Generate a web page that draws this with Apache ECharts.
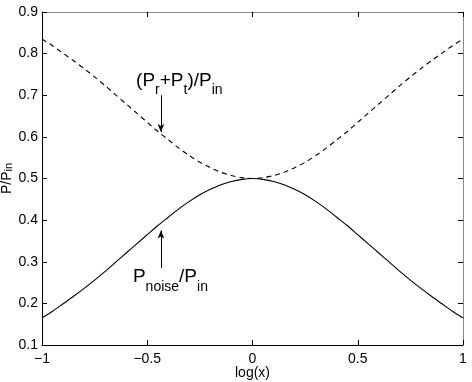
<!DOCTYPE html>
<html>
<head>
<meta charset="utf-8">
<script src="https://cdn.jsdelivr.net/npm/echarts@6/dist/echarts.min.js"></script>
<style>
  html, body { margin: 0; padding: 0; background: #fff; }
  #chart { width: 472px; height: 382px; }
</style>
</head>
<body>
<div id="chart"></div>
<script>
// log(x) sample points
var logX = [-1, -0.95, -0.9, -0.85, -0.8, -0.75, -0.7, -0.65, -0.6, -0.55, -0.5,
            -0.45, -0.4, -0.35, -0.3, -0.25, -0.2, -0.15, -0.1, -0.05, 0,
            0.05, 0.1, 0.15, 0.2, 0.25, 0.3, 0.35, 0.4, 0.45, 0.5,
            0.55, 0.6, 0.65, 0.7, 0.75, 0.8, 0.85, 0.9, 0.95, 1];
// P_noise / P_in  (solid)
var pNoise = [0.165, 0.181, 0.199, 0.217, 0.236, 0.256, 0.277, 0.299, 0.321, 0.343, 0.365,
              0.387, 0.407, 0.427, 0.445, 0.461, 0.474, 0.485, 0.493, 0.498, 0.500,
              0.498, 0.493, 0.485, 0.474, 0.461, 0.445, 0.427, 0.407, 0.387, 0.365,
              0.343, 0.321, 0.299, 0.277, 0.256, 0.236, 0.217, 0.199, 0.181, 0.165];
// (P_r + P_t) / P_in  (dashed)
var pRT = [0.835, 0.819, 0.801, 0.783, 0.764, 0.744, 0.723, 0.701, 0.679, 0.657, 0.635,
           0.613, 0.593, 0.573, 0.555, 0.539, 0.526, 0.515, 0.507, 0.502, 0.500,
           0.502, 0.507, 0.515, 0.526, 0.539, 0.555, 0.573, 0.593, 0.613, 0.635,
           0.657, 0.679, 0.701, 0.723, 0.744, 0.764, 0.783, 0.801, 0.819, 0.835];
var xTicks = [-1, -0.5, 0, 0.5, 1];
var yTicks = [0.1, 0.2, 0.3, 0.4, 0.5, 0.6, 0.7, 0.8, 0.9];

// annotation text (left edge / middle of main text, data coords) and arrows [x, yFrom, yTo]
var noiseLabelAt = [-0.568, 0.2634];
var rtLabelAt = [-0.553, 0.7354];
var noiseParts = [['P', 0], ['noise', 1], ['/P', 0], ['in', 1]];
var rtParts = [['(P', 0], ['r', 1], ['+P', 0], ['t', 1], [')/P', 0], ['in', 1]];
var noiseArrow = [-0.435, 0.285, 0.375];
var rtArrow = [-0.435, 0.700, 0.612];

var font = "'Liberation Sans', Arial, Helvetica, sans-serif";
var mainSize = 19, subSize = 14, subDrop = 10;

function pairs(ys) {
  return logX.map(function (x, i) { return [x, ys[i]]; });
}
function minus(v) { return String(v).replace('-', '\u2212'); }
function arrowLine(a) {
  return {
    silent: true, symbol: ['none', 'arrow'], symbolSize: [5, 8],
    label: { show: false },
    lineStyle: { color: '#000', width: 1, type: 'solid' },
    emphasis: { disabled: true },
    data: [[{ coord: [a[0], a[1]] }, { coord: [a[0], a[2]] }]]
  };
}

var chart = echarts.init(document.getElementById('chart'), null, { renderer: 'canvas' });
var baseAxisX = {
  type: 'value', min: xTicks[0], max: xTicks[xTicks.length - 1], interval: 0.5,
  splitLine: { show: false },
  nameMoveOverlap: false,
  axisTick: { inside: true, length: 5, lineStyle: { color: '#000' } }
};
var baseAxisY = {
  type: 'value', min: yTicks[0], max: yTicks[yTicks.length - 1], interval: 0.1,
  splitLine: { show: false },
  nameMoveOverlap: false,
  axisTick: { inside: true, length: 5, lineStyle: { color: '#000' } }
};

chart.setOption({
  animation: false,
  backgroundColor: '#fff',
  grid: { left: 42, right: 9, top: 12, bottom: 37, containLabel: false, outerBoundsMode: 'none' },
  xAxis: [
    Object.assign({}, baseAxisX, {
      position: 'bottom',
      name: 'log(x)', nameLocation: 'middle', nameGap: 21,
      nameTextStyle: { fontSize: 14, color: '#000', fontFamily: font },
      axisLine: { onZero: false, lineStyle: { color: '#000', width: 1 } },
      axisLabel: { fontSize: 14, color: '#000', fontFamily: font, margin: 7,
        formatter: function (v) { return minus(v); } }
    }),
    Object.assign({}, baseAxisX, {
      position: 'top',
      axisLine: { onZero: false, lineStyle: { color: '#888', width: 1 } },
      axisLabel: { show: false }
    })
  ],
  yAxis: [
    Object.assign({}, baseAxisY, {
      position: 'left',
      name: '{a|P/P}{b|in}', nameLocation: 'middle', nameGap: 28,
      nameTextStyle: { rich: {
        a: { fontSize: 14, lineHeight: 26, verticalAlign: 'bottom', color: '#000', fontFamily: font },
        b: { fontSize: 11, lineHeight: 12, verticalAlign: 'bottom', color: '#000', fontFamily: font }
      } },
      axisLine: { onZero: false, lineStyle: { color: '#000', width: 1 } },
      axisLabel: { fontSize: 14, color: '#000', fontFamily: font, margin: 4,
        formatter: function (v) { return v.toFixed(1); } }
    }),
    Object.assign({}, baseAxisY, {
      position: 'right',
      axisLine: { onZero: false, lineStyle: { color: '#888', width: 1 } },
      axisLabel: { show: false }
    })
  ],
  series: [
    {
      name: 'noise', type: 'line', data: pairs(pNoise),
      smooth: 0.3, showSymbol: false, symbol: 'none',
      lineStyle: { color: '#000', width: 1.1 },
      markLine: arrowLine(noiseArrow)
    },
    {
      name: 'reflect', type: 'line', data: pairs(pRT),
      smooth: 0.3, showSymbol: false, symbol: 'none',
      lineStyle: { color: '#000', width: 1.1, type: [5, 4] },
      markLine: arrowLine(rtArrow)
    }
  ]
});

// main text + subscripts, laid out piece by piece
var ctx = document.createElement('canvas').getContext('2d');
function labelAt(at, parts) {
  var p = chart.convertToPixel({ gridIndex: 0 }, at);
  var x = p[0], els = [];
  parts.forEach(function (part) {
    var size = part[1] ? subSize : mainSize;
    var f = size + 'px ' + font;
    ctx.font = f;
    els.push({
      type: 'text', x: x, y: p[1] + (part[1] ? subDrop : 0), silent: true,
      style: { text: part[0], font: f, fill: '#000', align: 'left', verticalAlign: 'middle' }
    });
    x += ctx.measureText(part[0]).width;
  });
  return els;
}
chart.setOption({
  graphic: labelAt(noiseLabelAt, noiseParts).concat(labelAt(rtLabelAt, rtParts))
});
</script>
</body>
</html>
